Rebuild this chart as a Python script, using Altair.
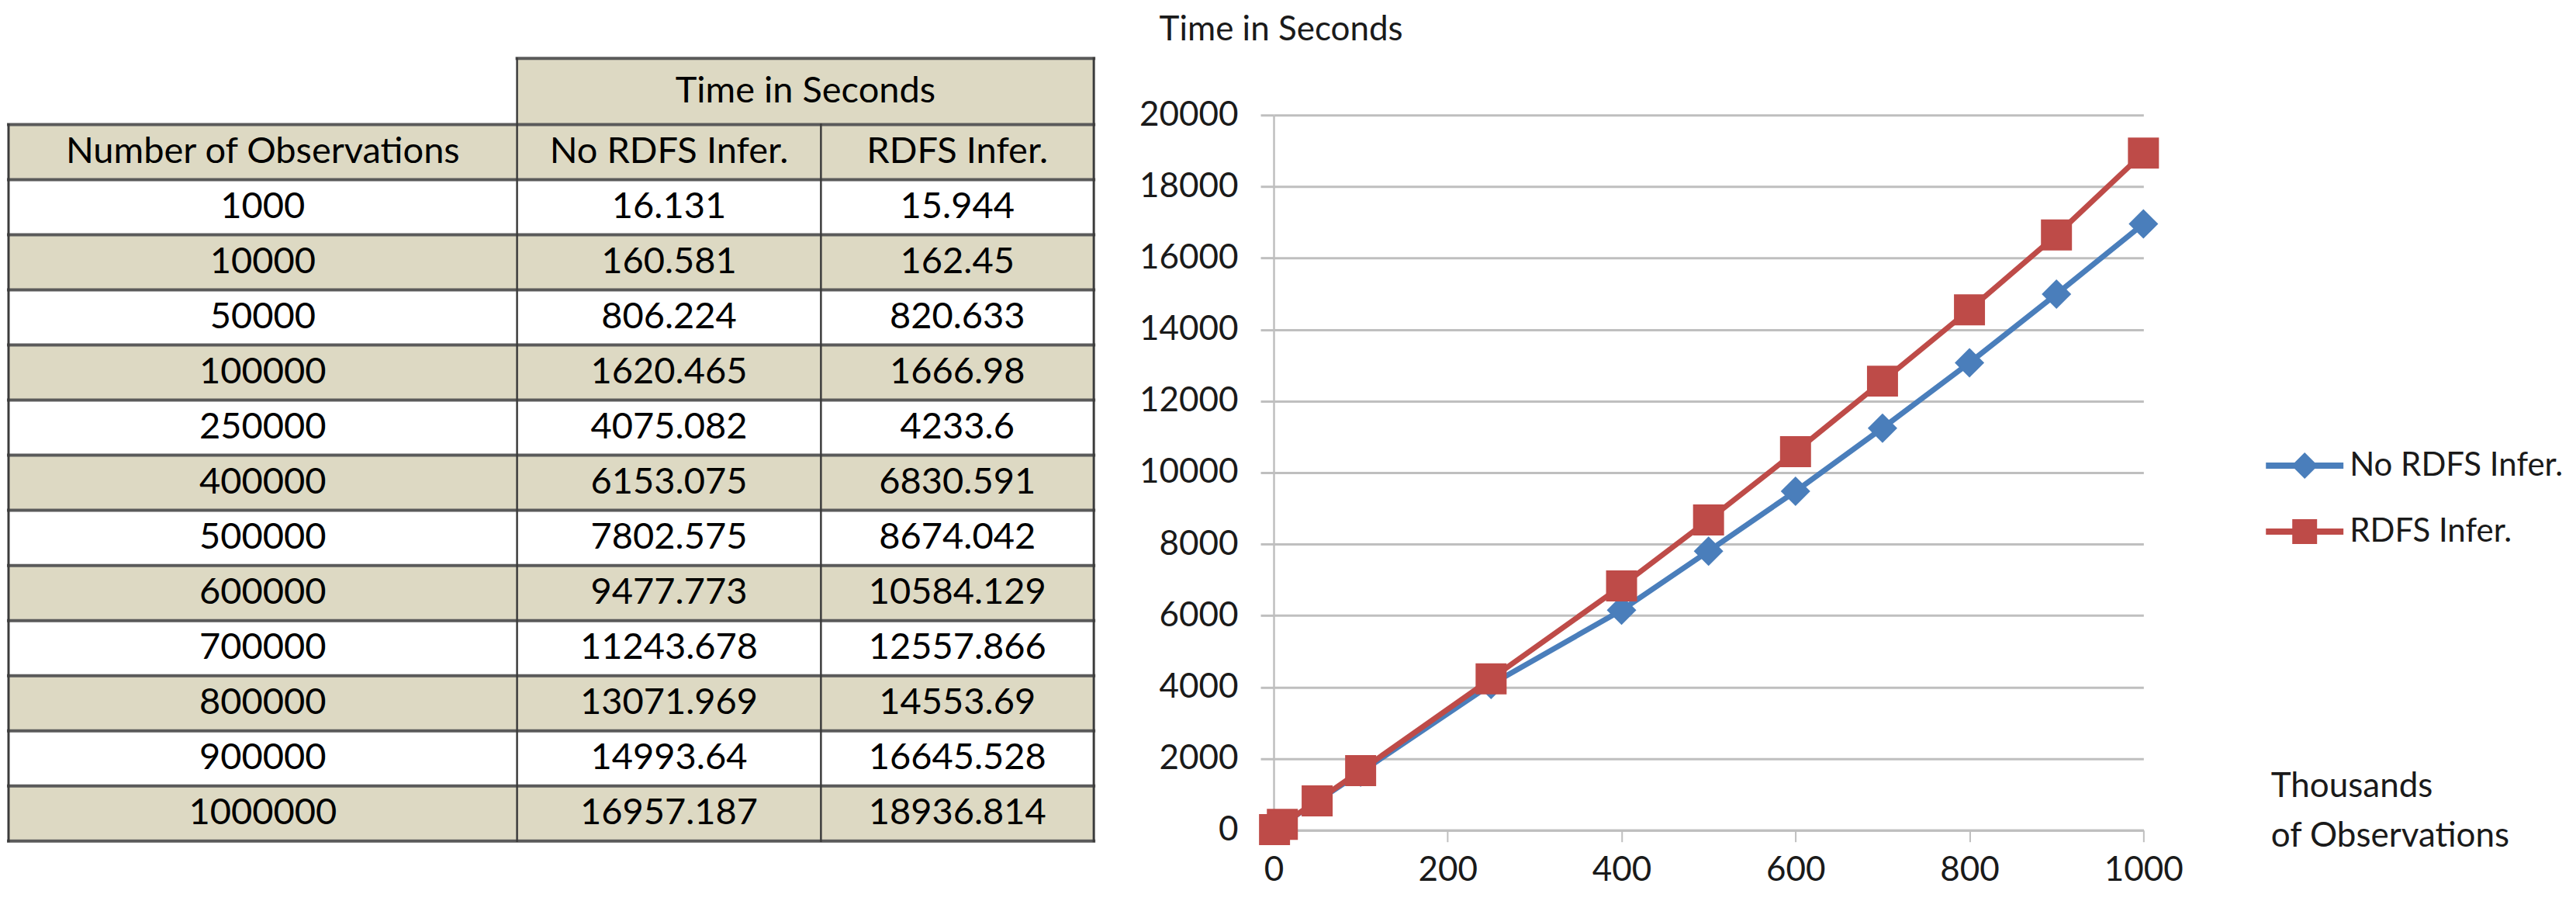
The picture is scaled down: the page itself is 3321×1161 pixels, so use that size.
import altair as alt
import pandas as pd

# ---------------- data ----------------
observations = [1000, 10000, 50000, 100000, 250000, 400000, 500000,
                600000, 700000, 800000, 900000, 1000000]
no_rdfs_seconds = [16.131, 160.581, 806.224, 1620.465, 4075.082, 6153.075,
                   7802.575, 9477.773, 11243.678, 13071.969, 14993.64, 16957.187]
rdfs_seconds = [15.944, 162.45, 820.633, 1666.98, 4233.6, 6830.591,
                8674.042, 10584.129, 12557.866, 14553.69, 16645.528, 18936.814]
series_names = ["No RDFS Infer.", "RDFS Infer."]
col_headers = ["Number of Observations", "No RDFS Infer.", "RDFS Infer."]
group_header = "Time in Seconds"
y_ticks = [0, 2000, 4000, 6000, 8000, 10000, 12000, 14000, 16000, 18000, 20000]
x_ticks = [0, 200, 400, 600, 800, 1000]
y_title = "Time in Seconds"
x_title = ["Thousands", "of Observations"]

# ---------------- style / layout ----------------
FONT = "Lato"
BLUE = "#4A7EBB"
RED = "#BE4B48"
GRID = "#BFBFBF"
BEIGE = "#DDD9C3"
BORDER = "#5A5A5A"
TEXT = "#1A1A1A"
PLOT_W, PLOT_H = 1122, 922
COL_EDGES = [0, 656, 1048, 1400]          # table column edges (table px)
TABLE_X_RANGE = [-1632, -232]             # where the table sits, left of the plot
ROW_DOMAIN = [-2.2, 12]                   # row index: two header rows + 12 data rows
TABLE_Y_RANGE = [-73, 936]

BLUE_SYM = "M-1,-0.08L1,-0.08L1,0.08L-1,0.08ZM-0.34,0L0,-0.34L0.34,0L0,0.34Z"
RED_SYM = "M-1,-0.08L1,-0.08L1,0.08L-1,0.08ZM-0.32,-0.32L0.32,-0.32L0.32,0.32L-0.32,0.32Z"

# ---------------- line chart ----------------
thousands = [o / 1000 for o in observations]
blue_df = pd.DataFrame({"k": thousands, "t": no_rdfs_seconds, "series": series_names[0]})
red_df = pd.DataFrame({"k": thousands, "t": rdfs_seconds, "series": series_names[1]})

x_axis = alt.Axis(values=x_ticks, format="d", grid=False, orient="bottom",
                  domain=True, domainColor=GRID, domainWidth=3,
                  ticks=True, tickColor=GRID, tickWidth=2, tickSize=15,
                  labelFont=FONT, labelFontSize=44, labelColor=TEXT, labelPadding=15,
                  labelFlush=False, labelOverlap=False,
                  title=x_title, titleFont=FONT, titleFontSize=44, titleFontWeight="normal",
                  titleColor=TEXT, titleAngle=0, titleAlign="left", titleBaseline="alphabetic",
                  titleX=1286, titleY=-43, titleLineHeight=64)
y_axis = alt.Axis(values=y_ticks, format="d", grid=True, gridColor=GRID, gridWidth=3,
                  orient="left", domain=True, domainColor=GRID, domainWidth=2.5,
                  ticks=True, tickColor=GRID, tickWidth=3, tickSize=17,
                  labelFont=FONT, labelFontSize=44, labelColor=TEXT, labelPadding=29,
                  labelFlush=False, labelOverlap=False,
                  title=y_title, titleFont=FONT, titleFontSize=44, titleFontWeight="normal",
                  titleColor=TEXT, titleAngle=0, titleAlign="left", titleBaseline="middle",
                  titleX=-148, titleY=-110)

x_enc = alt.X("k:Q", scale=alt.Scale(domain=[0, 1000], nice=False, zero=False), axis=x_axis)
y_enc = alt.Y("t:Q", scale=alt.Scale(domain=[0, 20000], nice=False, zero=False), axis=y_axis)


def legend_for(path, ly):
    return alt.Legend(orient="none", legendX=1280, legendY=ly, title=None,
                      symbolType=path, symbolSize=10000, symbolStrokeWidth=0,
                      labelFont=FONT, labelFontSize=42, labelColor=TEXT,
                      labelOffset=8, labelLimit=0, padding=0)


blue_line = alt.Chart(blue_df).mark_line(color=BLUE, strokeWidth=7).encode(x=x_enc, y=y_enc)
red_line = alt.Chart(red_df).mark_line(color=RED, strokeWidth=7).encode(x=x_enc, y=y_enc)
blue_pts = alt.Chart(blue_df).mark_point(shape="diamond", filled=True, size=1450, opacity=1).encode(
    x=x_enc, y=y_enc,
    color=alt.Color("series:N", scale=alt.Scale(domain=[series_names[0]], range=[BLUE]),
                    legend=legend_for(BLUE_SYM, 402)))
red_pts = alt.Chart(red_df).mark_point(shape="square", filled=True, size=1600, opacity=1).encode(
    x=x_enc, y=y_enc,
    color=alt.Color("series:N", scale=alt.Scale(domain=[series_names[1]], range=[RED]),
                    legend=legend_for(RED_SYM, 487)))

plot = alt.layer(blue_line, blue_pts, red_line, red_pts).resolve_scale(
    color="independent").resolve_legend(color="independent")

# ---------------- table ----------------
cell_rows = [dict(x1=COL_EDGES[1], x2=COL_EDGES[3], r1=-2.2, r2=-1, fill=BEIGE, label=group_header)]
for j, h in enumerate(col_headers):
    cell_rows.append(dict(x1=COL_EDGES[j], x2=COL_EDGES[j + 1], r1=-1, r2=0, fill=BEIGE, label=h))
for i, (o, a, b) in enumerate(zip(observations, no_rdfs_seconds, rdfs_seconds)):
    fill = "#FFFFFF" if i % 2 == 0 else BEIGE
    for j, v in enumerate([str(o), str(a), str(b)]):
        cell_rows.append(dict(x1=COL_EDGES[j], x2=COL_EDGES[j + 1], r1=i, r2=i + 1, fill=fill, label=v))
cells = pd.DataFrame(cell_rows)
cells["xc"] = (cells["x1"] + cells["x2"]) / 2
cells["rc"] = (cells["r1"] + cells["r2"]) / 2

n_rows = len(observations)
hl_rows = [dict(x1=COL_EDGES[1], x2=COL_EDGES[3], r=-2.2)]
for r in range(-1, n_rows + 1):
    hl_rows.append(dict(x1=COL_EDGES[0], x2=COL_EDGES[3], r=r))
hlines = pd.DataFrame(hl_rows)
vlines = pd.DataFrame([
    dict(x=COL_EDGES[0], r1=-1, r2=n_rows, w=3),
    dict(x=COL_EDGES[1], r1=-2.2, r2=n_rows, w=2.5),
    dict(x=COL_EDGES[2], r1=-1, r2=n_rows, w=2.5),
    dict(x=COL_EDGES[3], r1=-2.2, r2=n_rows, w=3),
])

tx = alt.Scale(domain=[COL_EDGES[0], COL_EDGES[-1]], range=TABLE_X_RANGE, nice=False, zero=False)
ty = alt.Scale(domain=ROW_DOMAIN, range=TABLE_Y_RANGE, nice=False, zero=False)

rects = alt.Chart(cells).mark_rect().encode(
    x=alt.X("x1:Q", scale=tx, axis=None), x2="x2:Q",
    y=alt.Y("r1:Q", scale=ty, axis=None), y2="r2:Q",
    fill=alt.Fill("fill:N", scale=None))
hl = alt.Chart(hlines).mark_rule(color=BORDER, strokeWidth=4, strokeCap="square").encode(
    x=alt.X("x1:Q", scale=tx, axis=None), x2="x2:Q",
    y=alt.Y("r:Q", scale=ty, axis=None))
vl = alt.Chart(vlines).mark_rule(color="#3C3C3C", strokeCap="square").encode(
    x=alt.X("x:Q", scale=tx, axis=None),
    y=alt.Y("r1:Q", scale=ty, axis=None), y2="r2:Q",
    strokeWidth=alt.StrokeWidth("w:Q", scale=None))
texts = alt.Chart(cells).mark_text(font=FONT, fontSize=47, color="#000000",
                                   align="center", baseline="middle").encode(
    x=alt.X("xc:Q", scale=tx, axis=None),
    y=alt.Y("rc:Q", scale=ty, axis=None),
    text="label:N")

table = alt.layer(rects, hl, vl, texts)

chart = alt.layer(table, plot).resolve_scale(
    x="independent", y="independent", color="independent"
).properties(
    width=PLOT_W, height=PLOT_H,
    padding={"left": 1635, "top": 140, "right": 550, "bottom": 83},
    autosize=alt.AutoSizeParams(type="none"),
    background="white",
).configure_view(strokeWidth=0)

chart.save("out.html", embed_options={"renderer": "svg", "actions": False})
